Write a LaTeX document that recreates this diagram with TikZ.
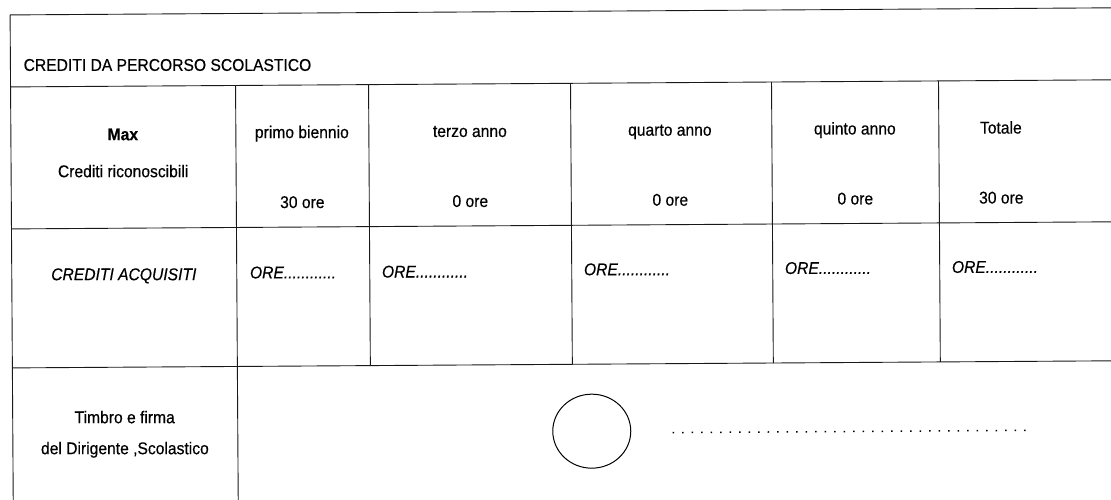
\documentclass[tikz,border=0pt]{standalone}
\usepackage{fontspec}
\setmainfont{Liberation Sans}[FakeStretch=0.92,FakeBold=0.4]
\usetikzlibrary{shapes.geometric}
\begin{document}
\begin{tikzpicture}[x=1pt,y=-1pt,
  cellline/.style={draw=black!90,line width=0.9pt},
  txt/.style={inner sep=0pt,anchor=base,font=\fontsize{17}{20}\selectfont},
  ltxt/.style={inner sep=0pt,anchor=base west,font=\fontsize{17}{20}\selectfont},
  oretxt/.style={inner sep=0pt,anchor=base west,font=\fontsize{17}{20}\selectfont\itshape},
  dotline/.style={draw=black,line width=1.5pt,dash pattern=on 1.5pt off 8pt},
  stamp/.style={draw=black,line width=1pt,ellipse}]
\useasboundingbox[fill=white] (0,0) rectangle (1111,500);
\begin{scope}[rotate=0.37]
% grid corners
\coordinate (tl) at (10,15);
\coordinate (tr) at (1120,15);
\coordinate (bl) at (10,510);
% horizontal lines
\draw[cellline] (tl) -- (tr);
\draw[cellline] (10,87) -- (1120,87);
\draw[cellline] (10,229) -- (1120,229);
\draw[cellline] (10,368) -- (1120,368);
% vertical lines
\draw[cellline] (tl) -- (bl);
\draw[cellline] (235,87) -- (235,510);
\foreach \cx in {368,570,771,938} {
  \draw[cellline] (\cx,87) -- (\cx,368);
}
% title
\node[ltxt] (title) at (23,71) {CREDITI DA PERCORSO SCOLASTICO};
% header row
\node[txt,font=\fontsize{17}{20}\selectfont\bfseries] (max) at (122,141) {Max};
\node[txt] (cred) at (122,178) {Crediti riconoscibili};
\node[txt] (h1) at (301,140) {primo biennio};
\node[txt] (h2) at (469,140) {terzo anno};
\node[txt] (h3) at (669,140) {quarto anno};
\node[txt] (h4) at (854,140) {quinto anno};
\node[txt] (h5) at (1000,140) {Totale};
\node[txt] (o1) at (301,210) {30 ore};
\node[txt] (o2) at (469,210) {0 ore};
\node[txt] (o3) at (669,210) {0 ore};
\node[txt] (o4) at (854,210) {0 ore};
\node[txt] (o5) at (1000,210) {30 ore};
% acquired row
\node[txt,font=\fontsize{17}{20}\selectfont\itshape] (acq) at (122,281) {CREDITI ACQUISITI};
\node[oretxt] (a1) at (248,280) {ORE............};
\node[oretxt] (a2) at (380,280) {ORE............};
\node[oretxt] (a3) at (582,279) {ORE............};
\node[oretxt] (a4) at (783,279) {ORE............};
\node[oretxt] (a5) at (950,279) {ORE............};
% signature row
\node[txt] (timbro) at (122,424) {Timbro e firma};
\node[txt] (dirig) at (122,455) {del Dirigente ,Scolastico};
\node[stamp,minimum width=78pt,minimum height=74pt,inner sep=0pt] (circ) at (589,435) {};
\coordinate (sigA) at (670,437);
\coordinate (sigB) at (1025,437);
\draw[dotline] (sigA) -- (sigB);
\end{scope}
\end{tikzpicture}
\end{document}
